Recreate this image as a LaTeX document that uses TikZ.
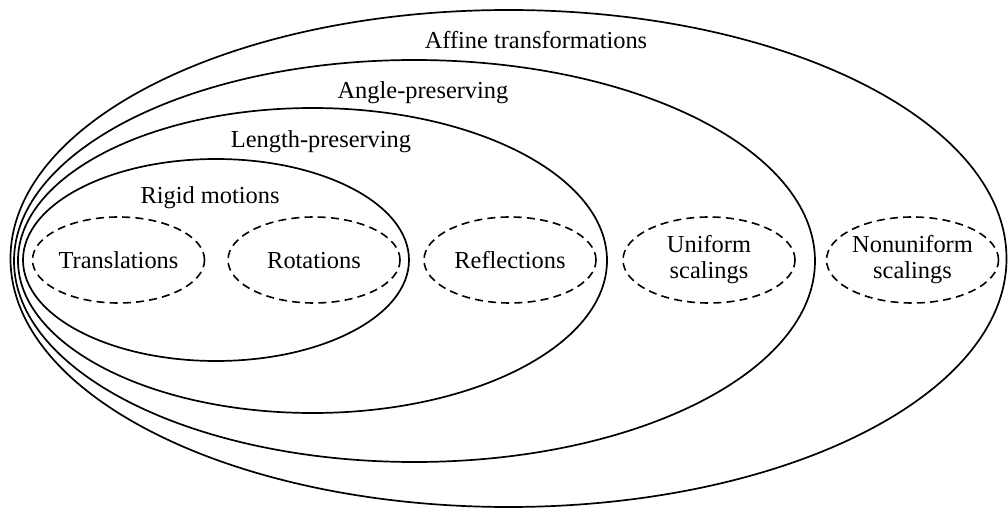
\documentclass[tikz,border=0pt]{standalone}
\usepackage{fontspec}
\setmainfont{Liberation Serif}
\usetikzlibrary{shapes.geometric}
\tikzset{
  setring/.style={draw, ellipse, line width=0.85pt, inner sep=0pt},
  subset/.style={draw, ellipse, line width=0.8pt, inner sep=0pt, dash pattern=on 4pt off 2.6pt,
    minimum width=86pt, minimum height=43pt},
  lbl/.style={font=\fontsize{12.2}{13}\selectfont, align=center, inner sep=0pt},
  onelbl/.style={lbl, text height=8.2pt, text depth=0pt}
}
\begin{document}
\begin{tikzpicture}[x=0.5pt,y=-0.5pt]
\useasboundingbox (0,0) rectangle (1008,508);
% nested solid ellipses
\node[setring, minimum width=498pt, minimum height=248.5pt] (affine) at (508.5,258.5) {};
\node[setring, minimum width=400.5pt, minimum height=201pt] (angle) at (414.5,261) {};
\node[setring, minimum width=294.5pt, minimum height=152.5pt] (length) at (312.5,260.5) {};
\node[setring, minimum width=193pt, minimum height=101pt] (rigid) at (216,260) {};
% labels of the sets
\node[onelbl] (affinelbl) at (536,40) {Affine transformations};
\node[onelbl] (anglelbl) at (423,90) {Angle-preserving};
\node[onelbl] (lengthlbl) at (321,139) {Length-preserving};
\node[onelbl] (rigidlbl) at (210,195) {Rigid motions};
% dashed subsets
\node[subset] (trans) at (118.5,260) {};
\node[subset] (rot) at (314,260) {};
\node[subset] (refl) at (510,260) {};
\node[subset] (unif) at (709,260) {};
\node[subset] (nonunif) at (912.5,260) {};
\node[onelbl] (translbl) at (trans) {Translations};
\node[onelbl] (rotlbl) at (rot) {Rotations};
\node[onelbl] (refllbl) at (refl) {Reflections};
\node[lbl] (uniflbl) at (unif) {Uniform\\scalings};
\node[lbl] (nonuniflbl) at (nonunif) {Nonuniform\\scalings};
\end{tikzpicture}
\end{document}
